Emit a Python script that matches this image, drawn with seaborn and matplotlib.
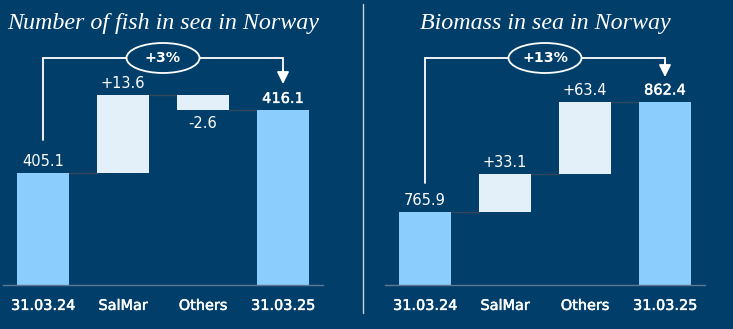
import matplotlib
matplotlib.use("Agg")
import matplotlib.pyplot as plt
import matplotlib.transforms as mtransforms
import matplotlib.patheffects as pe
from matplotlib.patches import Ellipse
from matplotlib.lines import Line2D
import seaborn as sns

# ---- data ----
categories = ["31.03.24", "SalMar", "Others", "31.03.25"]

fish_title = "Number of fish in sea in Norway"
fish_start = 405.1
fish_changes = [13.6, -2.6]
fish_end = 416.1
fish_labels = ["405.1", "+13.6", "-2.6", "416.1"]
fish_growth = "+3%"

bio_title = "Biomass in sea in Norway"
bio_start = 765.9
bio_changes = [33.1, 63.4]
bio_end = 862.4
bio_labels = ["765.9", "+33.1", "+63.4", "862.4"]
bio_growth = "+13%"

# ---- style ----
BG = "#013E6A"
TOTAL_C = "#8BCDFD"
DELTA_C = "#E3EFF9"
CONN_C = "#34475A"
BASE_C = "#5E7893"
SEP_C = "#C9D2DC"

sns.set_theme(style="white")
plt.rcParams["font.family"] = ["DejaVu Sans"]

W, H = 733, 329
fig = plt.figure(figsize=(W / 100, H / 100), dpi=100, facecolor=BG)


def waterfall(left_px, ylims, start, changes, end, labels, title, growth,
              bracket_start, arrow_tip):
    ax = fig.add_axes([left_px / W, 44 / H, 320 / W, 245 / H])
    ax.set_facecolor(BG)
    levels = [start]
    for c in changes:
        levels.append(levels[-1] + c)
    tops = [start] + [max(levels[i], levels[i + 1]) for i in range(len(changes))] + [end]
    bottoms = [None] + [min(levels[i], levels[i + 1]) for i in range(len(changes))] + [None]
    colors = [TOTAL_C] + [DELTA_C] * len(changes) + [TOTAL_C]

    sns.barplot(x=categories, y=tops, hue=categories, palette=colors,
                legend=False, width=0.65, saturation=1, linewidth=0, ax=ax)
    patches = sorted(ax.patches, key=lambda p: p.get_x())
    for p, b, t in zip(patches, bottoms, tops):
        if b is not None:
            p.set_y(b)
            p.set_height(t - b)
        p.set_zorder(2)

    ax.set_ylim(*ylims)
    ax.set_xlim(-0.5, 3.5)

    # connector lines
    hw = 0.325
    for i in range(3):
        lvl = levels[i] if i < len(levels) else end
        ax.plot([i + hw, i + 1 - hw], [lvl, lvl], color=CONN_C, lw=1.0, zorder=1)

    # value labels
    for i, (lab, t) in enumerate(zip(labels, tops)):
        eff = [pe.withStroke(linewidth=0.3, foreground="white")] if i == 3 else None
        if 0 < i < 3 and changes[i - 1] < 0:
            ax.annotate(lab, (i, bottoms[i]), xytext=(0, -4), textcoords="offset points",
                        ha="center", va="top", color="white", fontsize=10.5)
        else:
            ax.annotate(lab, (i, t), xytext=(0, 3), textcoords="offset points",
                        ha="center", va="bottom", color="white", fontsize=10.5,
                        path_effects=eff)

    # axes styling
    for s in ["top", "right", "left"]:
        ax.spines[s].set_visible(False)
    ax.spines["bottom"].set_color(BASE_C)
    ax.spines["bottom"].set_linewidth(1.0)
    ax.spines["bottom"].set_zorder(3)
    ax.set_yticks([])
    ax.set_xlabel("")
    ax.set_ylabel("")
    ax.tick_params(axis="x", length=0, pad=10, colors="white", labelsize=10.4)
    for tl in ax.get_xticklabels():
        tl.set_path_effects([pe.withStroke(linewidth=0.35, foreground="white")])

    # title
    ax.text(0.5, (285 - 23) / 245, title, transform=ax.transAxes, ha="center", va="center",
            color="white", fontsize=17.3, style="italic",
            family=["Liberation Serif", "DejaVu Serif"], clip_on=False)

    # bracket
    trans = mtransforms.blended_transform_factory(ax.transData, ax.transAxes)
    hy = (285 - 58) / 245
    ax.plot([0, 0, 3, 3], [bracket_start, hy, hy, arrow_tip + 0.04], color="white",
            lw=1.3, transform=trans, clip_on=False, zorder=4,
            solid_joinstyle="miter")
    ax.annotate("", xy=(3, arrow_tip), xycoords=trans,
                xytext=(3, arrow_tip + 0.06), textcoords=trans,
                arrowprops=dict(arrowstyle="-|>,head_width=0.3,head_length=0.6",
                                color="white", lw=1.3, shrinkA=0, shrinkB=0),
                annotation_clip=False, zorder=5)
    ell = Ellipse((1.5, hy), width=73 / 80, height=30 / 245, transform=trans,
                  facecolor=BG, edgecolor="white", lw=1.3, zorder=6, clip_on=False)
    ax.add_patch(ell)
    ax.text(1.5, hy, growth, transform=trans, ha="center", va="center",
            color="white", fontsize=10.3, fontweight="bold", zorder=7)
    return ax


waterfall(3, (385.4, 428.4), fish_start, fish_changes, fish_end, fish_labels,
          fish_title, fish_growth, (285 - 140) / 245, (285 - 84) / 245)
waterfall(385, (701.6, 916.5), bio_start, bio_changes, bio_end, bio_labels,
          bio_title, bio_growth, (285 - 183) / 245, (285 - 77) / 245)

# vertical separator
fig.add_artist(Line2D([363 / W, 363 / W], [1 - 4 / H, 1 - 313 / H],
                      transform=fig.transFigure, color=SEP_C, lw=1.0))

fig.savefig("out.png", dpi=100, facecolor=BG)
